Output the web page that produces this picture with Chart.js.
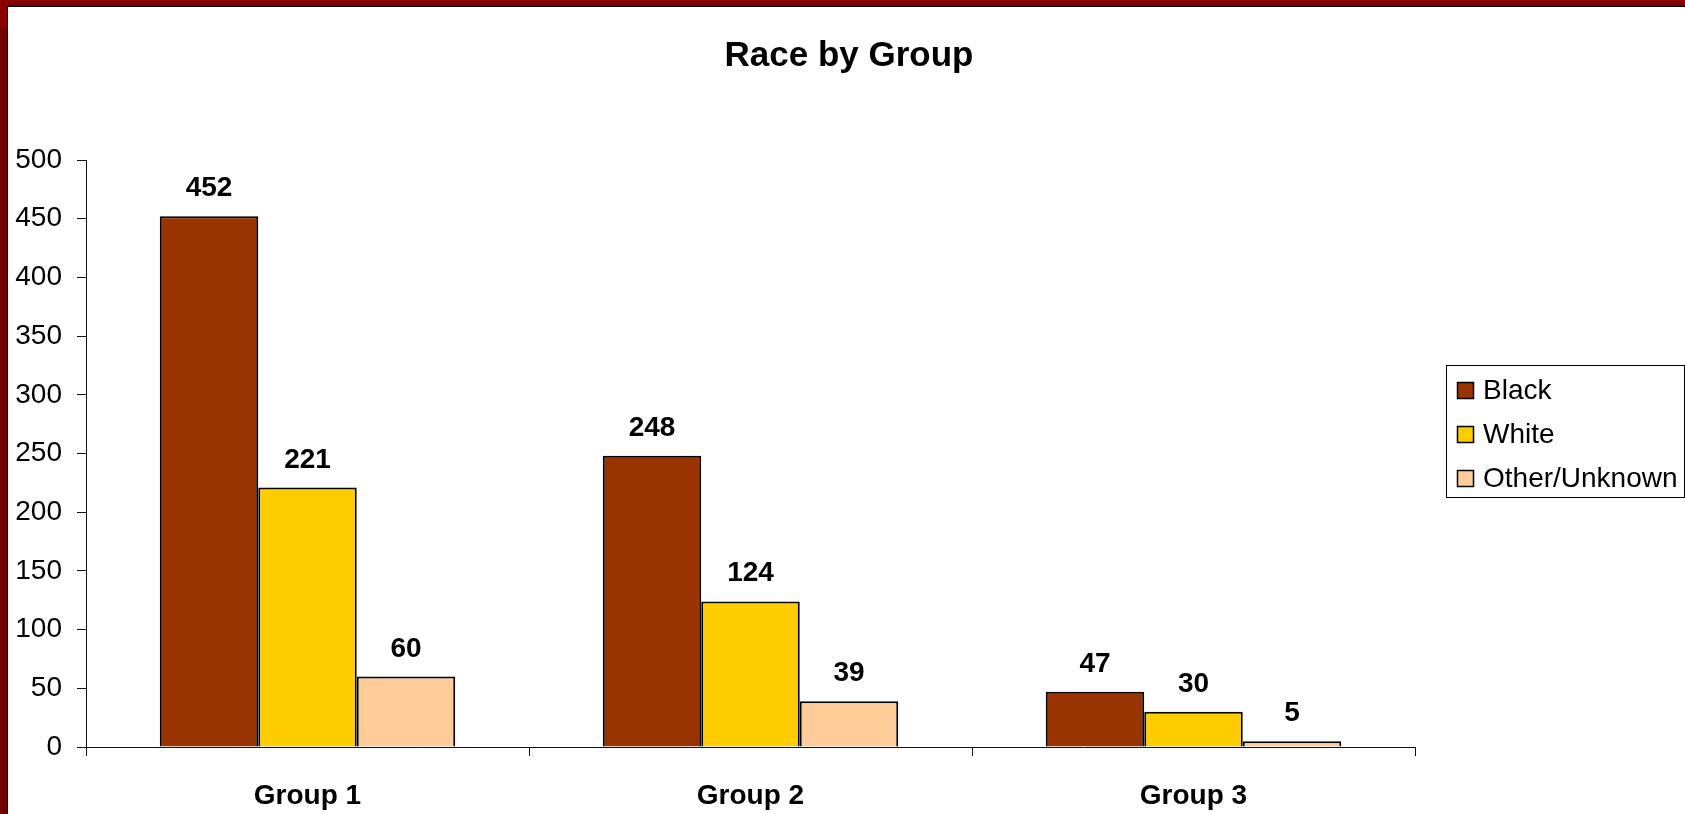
<!DOCTYPE html>
<html>
<head>
<meta charset="utf-8">
<title>Race by Group</title>
<script src="https://cdn.jsdelivr.net/npm/chart.js@4"></script>
<style>
  html, body { margin: 0; padding: 0; background: #fff; overflow: hidden; }
  #wrap { position: relative; width: 1685px; height: 814px; }
</style>
</head>
<body>
<div id="wrap"><canvas id="raceChart" width="1685" height="814"></canvas></div>
<script>
const groups = ['Group 1', 'Group 2', 'Group 3'];
const blackCounts = [452, 248, 47];
const whiteCounts = [221, 124, 30];
const otherCounts = [60, 39, 5];
const seriesNames = ['Black', 'White', 'Other/Unknown'];
const seriesColors = ['#993300', '#FFCC00', '#FFCC99'];
const chartTitle = 'Race by Group';

const FONT = '"Liberation Sans", Arial, sans-serif';

// slide frame: dark red strips along the top and left edges, plus the title
const framePlugin = {
    id: 'frame',
    beforeDraw(chart) {
        const ctx = chart.ctx;
        ctx.save();
        ctx.fillStyle = '#fff';
        ctx.fillRect(0, 0, chart.width, chart.height);
        const grad = ctx.createLinearGradient(0, 0, 0, 6);
        grad.addColorStop(0, '#8e0000');
        grad.addColorStop(1, '#740000');
        ctx.fillStyle = grad;
        ctx.fillRect(0, 0, chart.width, 6);
        ctx.fillStyle = '#720000';
        ctx.fillRect(0, 0, 7, chart.height);
        ctx.fillStyle = '#8a0000';
        ctx.fillRect(0, 0, 7, 28);
        ctx.fillStyle = '#000';
        ctx.fillRect(7, 6, chart.width - 7, 1);
        ctx.fillRect(7, 6, 1, chart.height - 6);

        // title is centred on the whole page, not the plot area
        ctx.font = 'bold 35px ' + FONT;
        ctx.textAlign = 'center';
        ctx.textBaseline = 'alphabetic';
        ctx.fillText(chartTitle, 849, 66);
        ctx.restore();
    }
};

// value above each bar
const valueLabels = {
    id: 'valueLabels',
    afterDatasetsDraw(chart) {
        const ctx = chart.ctx;
        ctx.save();
        ctx.font = 'bold 28px ' + FONT;
        ctx.fillStyle = '#000';
        ctx.textAlign = 'center';
        ctx.textBaseline = 'alphabetic';
        chart.data.datasets.forEach((ds, i) => {
            chart.getDatasetMeta(i).data.forEach((bar, j) => {
                ctx.fillText(String(ds.data[j]), bar.x, bar.y - 20);
            });
        });
        ctx.restore();
    }
};

// boxed legend on the right
const boxLegend = {
    id: 'boxLegend',
    afterDraw(chart) {
        const ctx = chart.ctx;
        const x0 = 1446, y0 = 365, w = 238, h = 132;
        ctx.save();
        ctx.strokeStyle = '#000';
        ctx.lineWidth = 1;
        ctx.strokeRect(x0 + 0.5, y0 + 0.5, w, h);
        ctx.font = '28px ' + FONT;
        ctx.textBaseline = 'middle';
        ctx.textAlign = 'left';
        chart.data.datasets.forEach((ds, i) => {
            const cy = 390 + i * 44;
            ctx.fillStyle = ds.backgroundColor;
            ctx.fillRect(1457, cy - 8, 17, 17);
            ctx.lineWidth = 1.5;
            ctx.strokeRect(1457.5, cy - 7.5, 16, 16);
            ctx.fillStyle = '#000';
            ctx.fillText(ds.label, 1483, cy + 1);
        });
        ctx.restore();
    }
};

const seriesData = [blackCounts, whiteCounts, otherCounts];

new Chart(document.getElementById('raceChart'), {
    type: 'bar',
    data: {
        labels: groups,
        datasets: seriesData.map((d, i) => ({
            label: seriesNames[i],
            data: d,
            backgroundColor: seriesColors[i],
            borderColor: '#000',
            borderWidth: 2,
            categoryPercentage: 0.667,
            barPercentage: 1
        }))
    },
    options: {
        responsive: false,
        animation: false,
        devicePixelRatio: 1,
        layout: { padding: { left: 0, right: 270, top: 160, bottom: 0 } },
        plugins: {
            legend: { display: false },
            tooltip: { enabled: false },
            title: { display: false }
        },
        scales: {
            x: {
                grid: { display: true, drawOnChartArea: false, drawTicks: true, tickLength: 9, color: '#111', offset: true },
                border: { display: true, color: '#111', width: 1 },
                ticks: { color: '#000', padding: 23, font: { family: FONT, size: 28, weight: 'bold' } },
                afterFit(scale) { scale.height = 67; }
            },
            y: {
                min: 0,
                max: 500,
                grid: { display: true, drawOnChartArea: false, drawTicks: true, tickLength: 9, color: '#111' },
                border: { display: true, color: '#111', width: 1 },
                ticks: { stepSize: 50, color: '#000', padding: 15, font: { family: FONT, size: 28 } },
                afterFit(scale) { scale.width = 86; }
            }
        }
    },
    plugins: [framePlugin, valueLabels, boxLegend]
});
</script>
</body>
</html>
